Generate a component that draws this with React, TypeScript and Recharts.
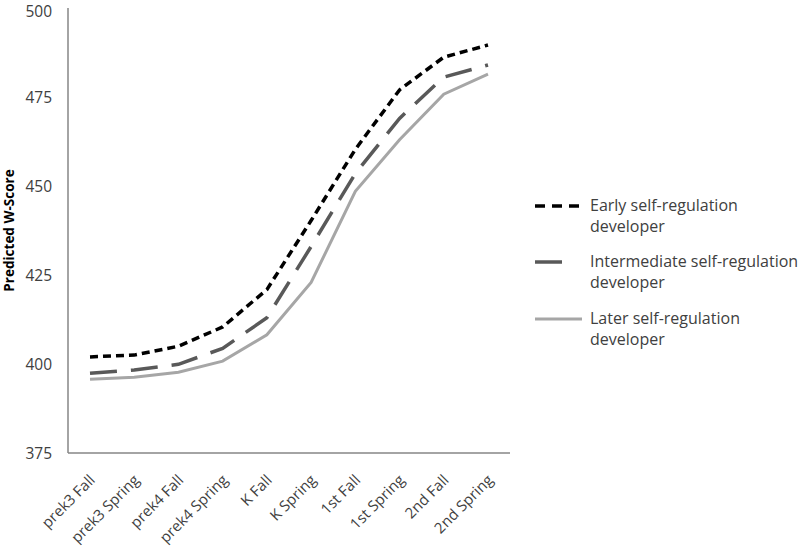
import React from "react";
import { LineChart, Line, XAxis, YAxis } from "recharts";

const categories = [
  "prek3 Fall",
  "prek3 Spring",
  "prek4 Fall",
  "prek4 Spring",
  "K Fall",
  "K Spring",
  "1st Fall",
  "1st Spring",
  "2nd Fall",
  "2nd Spring",
];
const early = [402.0, 402.5, 405.0, 410.4, 420.9, 440.3, 460.3, 477.0, 486.2, 489.6];
const intermediate = [397.4, 398.3, 399.9, 404.4, 413.0, 433.0, 453.5, 469.0, 480.6, 484.0];
const later = [395.7, 396.3, 397.7, 400.8, 408.2, 422.9, 448.5, 463.0, 475.8, 481.4];
const yTicks = [375, 400, 425, 450, 475, 500];

const seriesInfo = [
  { key: "early", name: ["Early self-regulation", "developer"], color: "#000000", width: 3.5, dash: "8 5", legendDash: "10 7", legendEnd: 50 },
  { key: "intermediate", name: ["Intermediate self-regulation", "developer"], color: "#595959", width: 3.5, dash: "27 14", legendDash: "", legendEnd: 32 },
  { key: "later", name: ["Later self-regulation", "developer"], color: "#A6A6A6", width: 3, dash: "", legendDash: "", legendEnd: 52 },
];

const data = categories.map((c, i) => ({
  cat: c,
  early: early[i],
  intermediate: intermediate[i],
  later: later[i],
}));

const FONT = "'Open Sans', 'Liberation Sans', sans-serif";

const XTick = (props: any) => {
  const { x, y, payload } = props;
  return (
    <text
      x={0}
      y={0}
      transform={`translate(${x + 6},${y + 20}) rotate(-45)`}
      textAnchor="end"
      fontFamily={FONT}
      fontSize={15}
      fill="#404040"
    >
      {payload.value}
    </text>
  );
};

const YTick = (props: any) => {
  const { y, payload } = props;
  return (
    <text x={52} y={Math.max(y + 5.5, 17)} textAnchor="end" fontFamily={FONT} fontSize={15.5} fill="#404040">
      {payload.value}
    </text>
  );
};

const YLabel = (props: any) => {
  const vb = props.viewBox || {};
  const cx = 14;
  const cy = (vb.y || 0) + (vb.height || 0) / 2;
  return (
    <text
      x={cx}
      y={cy}
      transform={`rotate(-90, ${cx}, ${cy})`}
      textAnchor="middle"
      fontFamily={FONT}
      fontSize={13.5}
      fontWeight={700}
      fill="#000"
    >
      Predicted W-Score
    </text>
  );
};

const LegendBox = () => (
  <div
    style={{
      position: "absolute",
      left: 530,
      top: 194.5,
      width: 270,
      fontFamily: FONT,
      fontSize: 16,
      color: "#404040",
      lineHeight: "21px",
      whiteSpace: "nowrap",
    }}
  >
    {seriesInfo.map((s) => (
      <div key={s.key} style={{ display: "flex", alignItems: "flex-start", marginBottom: 14.5 }}>
        <svg width={60} height={21} style={{ flex: "none" }}>
          <line
            x1={5}
            y1={11}
            x2={s.legendEnd}
            y2={11}
            stroke={s.color}
            strokeWidth={s.width}
            strokeDasharray={s.legendDash || undefined}
          />
        </svg>
        <div>
          <div>{s.name[0]}</div>
          <div>{s.name[1]}</div>
        </div>
      </div>
    ))}
  </div>
);

export default function App() {
  return (
    <div style={{ position: "absolute", left: 0, top: 0, width: 800, height: 546, background: "#fff" }}>
      <LineChart width={800} height={546} data={data} margin={{ top: 8, right: 290, left: 0, bottom: 0 }}>
        <XAxis
          dataKey="cat"
          tick={<XTick />}
          tickLine={false}
          axisLine={{ stroke: "#868686", strokeWidth: 1.5 }}
          height={93}
          interval={0}
          padding={{ left: 22, right: 22 }}
        />
        <YAxis
          domain={[375, 500]}
          ticks={yTicks}
          tick={<YTick />}
          tickLine={false}
          axisLine={{ stroke: "#868686", strokeWidth: 1.5 }}
          width={68}
          label={<YLabel />}
        />
        {seriesInfo.map((s) => (
          <Line
            key={s.key}
            type="linear"
            dataKey={s.key}
            stroke={s.color}
            strokeWidth={s.width}
            strokeDasharray={s.dash || undefined}
            dot={false}
            activeDot={false}
            isAnimationActive={false}
          />
        ))}
      </LineChart>
      <LegendBox />
    </div>
  );
}
